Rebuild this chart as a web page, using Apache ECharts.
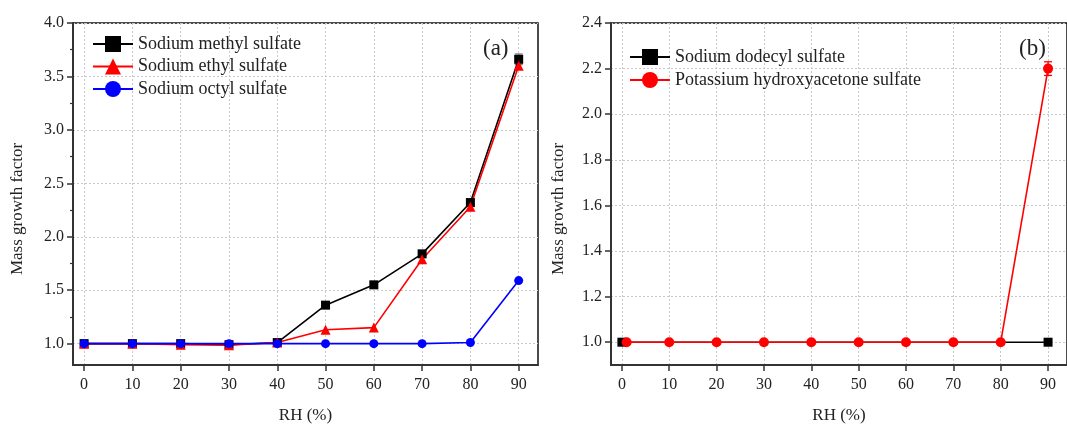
<!DOCTYPE html>
<html>
<head>
<meta charset="utf-8">
<script src="https://cdn.jsdelivr.net/npm/echarts@6/dist/echarts.min.js"></script>
<style>
  html, body { margin: 0; padding: 0; background: #fff; }
  #chart { width: 1067px; height: 429px; }
</style>
</head>
<body>
<div id="chart"></div>
<script>
// Relative humidity steps (%) and mass growth factors
const rh = [0, 10, 20, 30, 40, 50, 60, 70, 80, 90];
const methylSulfate = [1.00, 1.00, 1.00, 0.99, 1.01, 1.36, 1.55, 1.84, 2.32, 3.66];
const ethylSulfate  = [1.00, 1.00, 0.99, 0.985, 1.01, 1.13, 1.15, 1.79, 2.28, 3.60];
const octylSulfate  = [1.00, 1.00, 1.00, 1.00, 1.00, 1.00, 1.00, 1.00, 1.01, 1.59];

const dodecylRH = [0, 90];
const dodecylSulfate = [1.00, 1.00];
const hydroxyRH = [1, 10, 20, 30, 40, 50, 60, 70, 80, 90];
const hydroxyacetoneSulfate = [1.00, 1.00, 1.00, 1.00, 1.00, 1.00, 1.00, 1.00, 1.00, 2.20];

// Error bars: [RH, value, standard deviation]
const methylErr = [[90, 3.66, 0.05]];
const hydroxyErr = [[90, 2.20, 0.03]];

// Tick positions
const xTicks = [0, 10, 20, 30, 40, 50, 60, 70, 80, 90];
const yTicksA = [1.0, 1.5, 2.0, 2.5, 3.0, 3.5, 4.0];
const yMinorA = [1.25, 1.75, 2.25, 2.75, 3.25, 3.75];
const yTicksB = [1.0, 1.2, 1.4, 1.6, 1.8, 2.0, 2.2, 2.4];

const legendA = ['Sodium methyl sulfate', 'Sodium ethyl sulfate', 'Sodium octyl sulfate'];
const legendB = ['Sodium dodecyl sulfate', 'Potassium hydroxyacetone sulfate'];

const FONT = 'Liberation Serif';
const zip = (xs, ys) => xs.map((x, i) => [x, ys[i]]);

const gridLine = { show: true, lineStyle: { color: '#c8c8c8', type: [2, 2], width: 1 } };

function xAxisFor(gridIndex, nameGap) {
  return {
    type: 'value', gridIndex, min: -2.3, max: 94,
    name: 'RH (%)', nameLocation: 'middle', nameGap,
    nameTextStyle: { fontFamily: FONT, fontSize: 17, color: '#222' },
    axisLine: { show: true, onZero: false, lineStyle: { color: '#333', width: 2 } },
    axisTick: { show: true, inside: false, length: 6, customValues: xTicks, lineStyle: { color: '#333', width: 1.5 } },
    axisLabel: { customValues: xTicks, margin: 12, fontFamily: FONT, fontSize: 16, color: '#222' },
    splitLine: gridLine
  };
}

function yAxisFor(gridIndex, min, max, ticks, nameGap) {
  return {
    type: 'value', gridIndex, min, max,
    name: 'Mass growth factor', nameLocation: 'middle', nameGap,
    nameTextStyle: { fontFamily: FONT, fontSize: 17, color: '#222', padding: [0, 30, 0, 0] },
    axisLine: { show: true, onZero: false, lineStyle: { color: '#333', width: 2 } },
    axisTick: { show: true, inside: false, length: 6, customValues: ticks, lineStyle: { color: '#333', width: 1.5 } },
    axisLabel: { customValues: ticks, margin: 9, fontFamily: FONT, fontSize: 16, color: '#222',
                 formatter: v => v.toFixed(1) },
    splitLine: gridLine
  };
}

function errorBars(data, xi, yi, color) {
  return {
    type: 'custom', xAxisIndex: xi, yAxisIndex: yi, data, z: 3, silent: true,
    renderItem(params, api) {
      const x = api.value(0), y = api.value(1), e = api.value(2);
      const top = api.coord([x, y + e]);
      const bot = api.coord([x, y - e]);
      const w = 4;
      const st = { stroke: color, lineWidth: 1.3 };
      return {
        type: 'group',
        children: [
          { type: 'line', shape: { x1: top[0], y1: top[1], x2: bot[0], y2: bot[1] }, style: st },
          { type: 'line', shape: { x1: top[0] - w, y1: top[1], x2: top[0] + w, y2: top[1] }, style: st },
          { type: 'line', shape: { x1: bot[0] - w, y1: bot[1], x2: bot[0] + w, y2: bot[1] }, style: st }
        ]
      };
    }
  };
}

function lineSeries(name, data, xi, yi, color, symbol, size) {
  return {
    name, type: 'line', xAxisIndex: xi, yAxisIndex: yi, data,
    symbol, symbolSize: size, showAllSymbol: true,
    lineStyle: { color, width: 1.6 },
    itemStyle: { color },
    emphasis: { disabled: true },
    animation: false
  };
}

const chart = echarts.init(document.getElementById('chart'), null, { renderer: 'canvas' });

chart.setOption({
  animation: false,
  backgroundColor: '#fff',
  title: [
    { text: '(a)', left: 483, top: 37, padding: 0,
      textStyle: { fontFamily: FONT, fontSize: 23, fontWeight: 'normal', color: '#222' } },
    { text: '(b)', left: 1019, top: 37, padding: 0,
      textStyle: { fontFamily: FONT, fontSize: 23, fontWeight: 'normal', color: '#222' } }
  ],
  legend: [
    { data: legendA, orient: 'vertical', left: 92, top: 35, padding: 0,
      itemWidth: 40, itemHeight: 20, itemGap: 4.5,
      textStyle: { fontFamily: FONT, fontSize: 18, color: '#222' } },
    { data: legendB, orient: 'vertical', left: 629, top: 48, padding: 0,
      itemWidth: 40, itemHeight: 20, itemGap: 5,
      textStyle: { fontFamily: FONT, fontSize: 18, color: '#222' } }
  ],
  grid: [
    { left: 73, right: 529, top: 23, bottom: 63, show: true, borderColor: '#111', borderWidth: 1.5 },
    { left: 611, right: -10, top: 23, bottom: 63, show: true, borderColor: '#111', borderWidth: 1.5 }
  ],
  xAxis: [xAxisFor(0, 42), xAxisFor(1, 42)],
  yAxis: [
    yAxisFor(0, 0.8, 4.0, yTicksA, 47),
    {
      // minor ticks along the left axis of panel (a)
      type: 'value', gridIndex: 0, min: 0.8, max: 4.0, position: 'left', offset: 0,
      axisLine: { show: false, onZero: false },
      axisTick: { show: true, inside: false, length: 3, customValues: yMinorA, lineStyle: { color: '#333', width: 1.2 } },
      axisLabel: { show: false },
      splitLine: { show: false }
    },
    yAxisFor(1, 0.9, 2.4, yTicksB, 44)
  ],
  series: [
    lineSeries(legendA[0], zip(rh, methylSulfate), 0, 0, '#000000', 'rect', 9),
    lineSeries(legendA[1], zip(rh, ethylSulfate), 0, 0, '#ff0000', 'triangle', 10),
    lineSeries(legendA[2], zip(rh, octylSulfate), 0, 0, '#0000ff', 'circle', 9),
    errorBars(methylErr, 0, 0, '#777777'),
    lineSeries(legendB[0], zip(dodecylRH, dodecylSulfate), 1, 2, '#000000', 'rect', 9),
    lineSeries(legendB[1], zip(hydroxyRH, hydroxyacetoneSulfate), 1, 2, '#ff0000', 'circle', 10),
    errorBars(hydroxyErr, 1, 2, '#ff0000')
  ]
});
</script>
</body>
</html>
